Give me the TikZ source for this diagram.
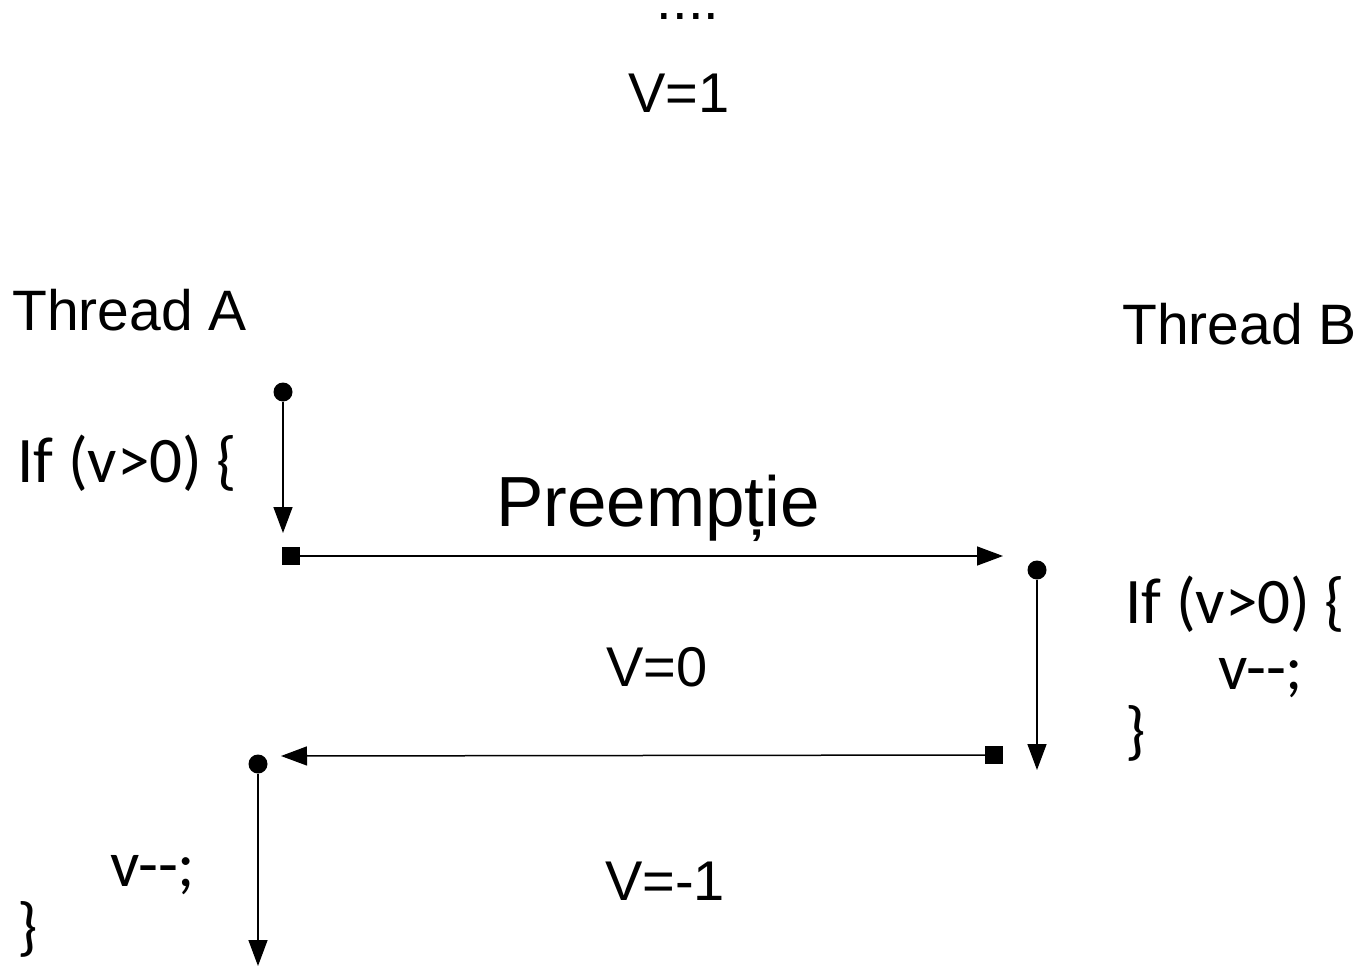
\documentclass[tikz,border=0pt]{standalone}
\usepackage{fontspec}
\setmainfont{Liberation Sans}
\newfontfamily\codefont{Carlito}
\usetikzlibrary{arrows.meta,positioning}

\begin{document}
\begin{tikzpicture}[x=1pt, y=-1pt,
    lbl/.style={inner sep=0pt, anchor=base, font=\fontsize{56}{66}\selectfont},
    code/.style={inner sep=0pt, anchor=base west, font=\codefont\fontsize{65}{78}\selectfont},
    pt/.style={circle, fill=black, inner sep=0pt, minimum size=19pt},
    sq/.style={rectangle, fill=black, inner sep=0pt, minimum size=18pt},
    arr/.style={-{Triangle[length=26pt, width=19pt]}, line width=1.5pt}
]
\useasboundingbox (0,0) rectangle (1363,966);

% value of v
\node[lbl, text height=8pt] (dots) at (688,20) {....};
\node[lbl] (v1) at (679,112) {V=1};
\node[lbl] (v0) at (657,686) {V=0};
\node[lbl] (vm1) at (665,900) {V=-1};

% threads
\node[lbl, anchor=base west, font=\fontsize{57}{68}\selectfont] (thA) at (12,330) {Thread A};
\node[lbl, anchor=base west, font=\fontsize{57}{68}\selectfont] (thB) at (1122,344) {Thread B};
\node[lbl, font=\fontsize{71}{85}\selectfont] (pre) at (658,526) {Preempție};

% code of thread A
\node[code] (ifA) at (17,482) {If (v>0) \{};
\node[code] (decA) at (110,886) {v-{}-;};
\node[code] (endA) at (17,948) {\}};

% code of thread B
\node[code] (ifB) at (1125,623) {If (v>0) \{};
\node[code] (decB) at (1218,689) {v-{}-;};
\node[code] (endB) at (1125,752) {\}};

% points of execution
\node[pt] (a1) at (283,392) {};
\node[sq] (sa) at (291,556) {};
\node[pt] (b1) at (1037,570) {};
\node[sq] (sb) at (994,755) {};
\node[pt] (a2) at (258,764) {};

\coordinate (ta1) at (283,533);
\coordinate (tp) at (1003,556);
\coordinate (tb1) at (1037,770);
\coordinate (tr) at (281,756);
\coordinate (ta2) at (258,966);

\draw[arr] (a1) -- (ta1);
\draw[arr] (sa) -- (tp);
\draw[arr] (b1) -- (tb1);
\draw[arr] (sb) -- (tr);
\draw[arr] (a2) -- (ta2);
\end{tikzpicture}
\end{document}
